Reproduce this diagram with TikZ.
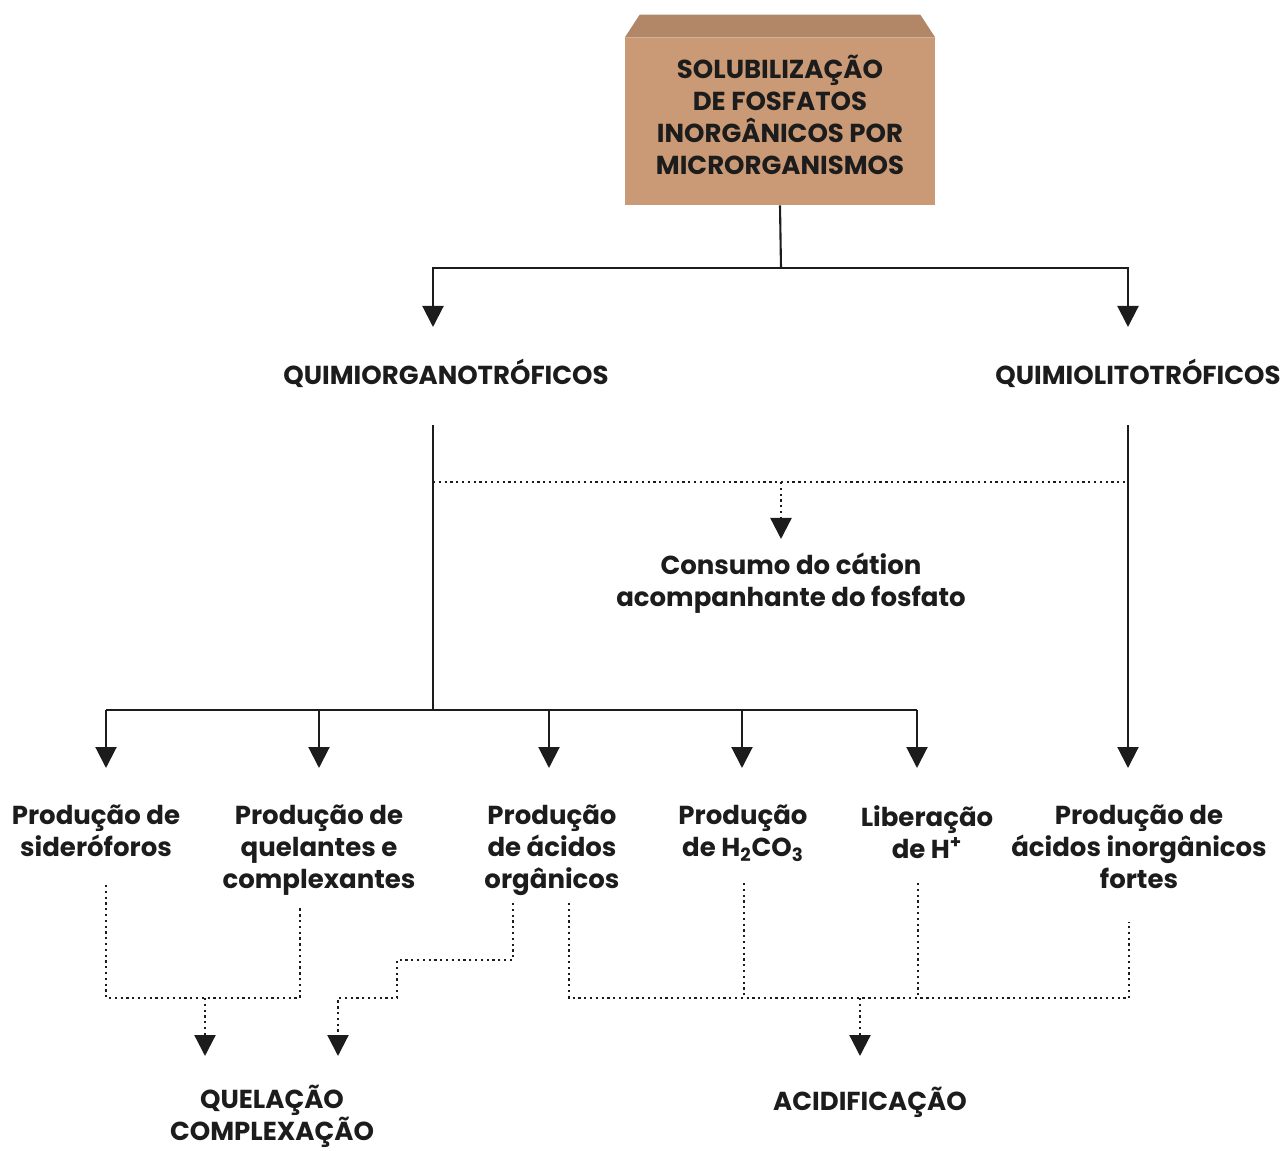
\documentclass[tikz,border=0pt]{standalone}
\usepackage{fontspec}
\setmainfont{Poppins}
\usetikzlibrary{arrows.meta}
\definecolor{boxtan}{RGB}{202,154,118}
\definecolor{ink}{RGB}{28,28,28}
\tikzset{>={Triangle[width=0.42cm,length=0.42cm]}}
\tikzset{
  lbl/.style={font=\fontsize{14.8}{18.2}\selectfont\bfseries, align=center, inner sep=0pt, text=ink},
  flow/.style={line width=1.2pt, draw=ink},
  dots/.style={line width=1.3pt, draw=ink, dotted},
}

\begin{document}
\begin{tikzpicture}[x=0.02cm,y=-0.02cm]
  \useasboundingbox (0,0) rectangle (1286,1151);
  % top box with a bevelled lid
  \node[fill=boxtan, minimum width=6.2cm, minimum height=3.34cm, inner sep=0pt] (box) at (780,121.5) {};
  \fill[boxtan!88!black] (box.north west) -- ++(15,-23) -- ([xshift=-0.3cm,yshift=0.46cm]box.north east) -- (box.north east) -- cycle;
  \node[lbl] (sol) at (780,115) {SOLUBILIZAÇÃO\\DE FOSFATOS\\INORGÂNICOS POR\\MICRORGANISMOS};
  % headings
  \node[lbl] (qorg) at (446,373) {QUIMIORGANOTRÓFICOS};
  \node[lbl] (qlit) at (1138,373) {QUIMIOLITOTRÓFICOS};
  \node[lbl] (cons) at (791,583) {Consumo do cátion\\acompanhante do fosfato};
  % bottom labels, first lines aligned
  \foreach \x/\n/\t in {96/sid/{Produção de\\sideróforos},
                        319/que/{Produção de\\quelantes e\\complexantes},
                        552/org/{Produção\\de ácidos\\orgânicos},
                        743/hco/{Produção\\de H\textsubscript{2}CO\textsubscript{3}},
                        927/hpl/{Liberação\\de H\textsuperscript{+}},
                        1139/ino/{Produção de\\ácidos inorgânicos\\fortes}}
    \node[lbl, anchor=north] (\n) at (\x,805) {\t};
  \node[lbl, anchor=north] (quel) at (272,1085) {QUELAÇÃO\\COMPLEXAÇÃO};
  \node[lbl, anchor=north] (acid) at (870,1087) {ACIDIFICAÇÃO};

  % solid connectors
  \coordinate (j0) at (781,268);
  \coordinate (aL) at (433,327);
  \coordinate (aR) at (1128,327);
  \draw[flow] (box.south) -- (j0);
  \draw[flow,->] (j0) -| (aL);
  \draw[flow,->] (j0) -| (aR);
  \coordinate (sL) at (433,425); % below QUIMIORGANOTROFICOS
  \coordinate (sR) at (1128,425); % below QUIMIOLITOTROFICOS
  \coordinate (hL) at (433,710); % split line
  \foreach \x [count=\i] in {106,319,549,742,917,1128}
    \coordinate (b\i) at (\x,768); % arrow tips above labels
  \draw[flow] (sL) -- (hL);
  \draw[flow] (b1 |- hL) -- (b5 |- hL);
  \foreach \i in {1,...,5}
    \draw[flow,->] (b\i |- hL) -- (b\i);
  \draw[flow,->] (sR) -- (b6);

  % dotted connectors
  \coordinate (d1) at (433,482);
  \coordinate (d2) at (1128,482);
  \coordinate (dc) at (781,539);
  \draw[dots] (d1) -- (d2);
  \draw[dots,->] (d1 -| dc) -- (dc);
  % chelation
  \coordinate (qj) at (205,998);
  \coordinate (qa) at (205,1056);
  \coordinate (ca) at (338,1056);
  \draw[dots] (106,885) |- (qj) -| (300,907);
  \draw[dots,->] (qj) -- (qa);
  \draw[dots,->] (513,903) -- (513,960) -| (397,998) -| (ca);
  % acidification
  \coordinate (aj) at (860,998);
  \coordinate (aa) at (860,1056);
  \draw[dots] (569,903) |- (aj) -| (1129,922);
  \draw[dots] (744,883) -- (744,998);
  \draw[dots] (918,883) -- (918,998);
  \draw[dots,->] (aj) -- (aa);
\end{tikzpicture}
\end{document}
